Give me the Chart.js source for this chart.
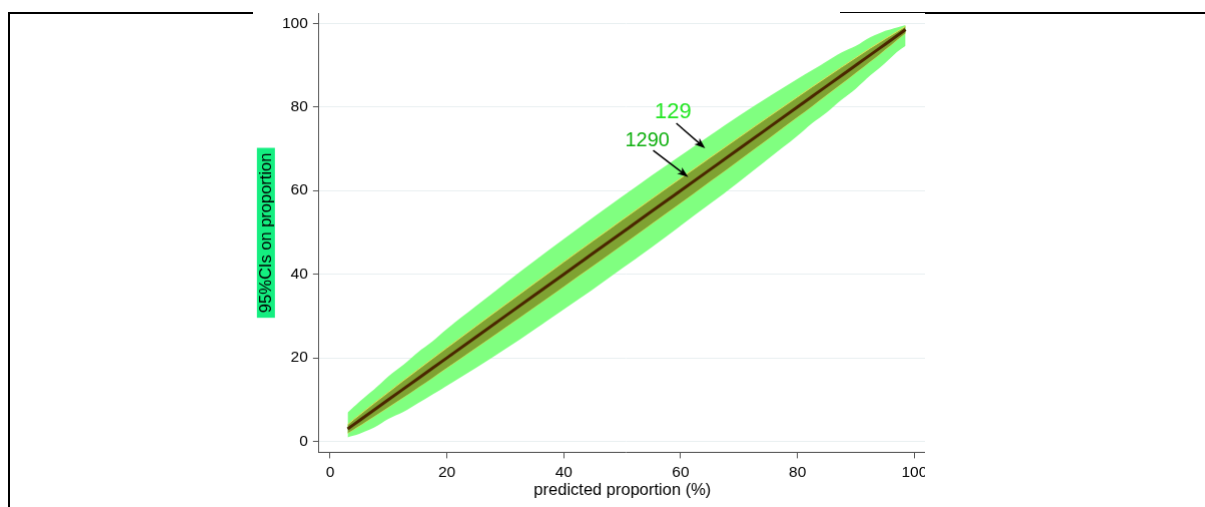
<!DOCTYPE html>
<html><head><meta charset="utf-8">
<script src="https://cdn.jsdelivr.net/npm/chart.js@4/dist/chart.umd.min.js"></script>
<style>
html,body{margin:0;padding:0;background:#fff;width:1205px;height:507px;overflow:hidden;position:relative;font-family:"Liberation Sans",Arial,sans-serif}
.ln{position:absolute;background:#000}
#clip{position:absolute;left:253px;top:13px;width:672px;height:494px;overflow:hidden;background:#fff}
#wrap{position:absolute;left:0;top:0}
</style></head><body>
<div class="ln" style="left:8px;top:12px;width:245px;height:2px"></div>
<div class="ln" style="left:8px;top:12px;width:2px;height:495px"></div>
<div class="ln" style="left:925px;top:12px;width:280px;height:2px"></div>
<div class="ln" style="left:840px;top:12px;width:85px;height:1px"></div>
<div id="clip"><div id="wrap"><canvas id="c" width="720" height="540"></canvas></div></div>
<script>
// ---- data ----
const xPred   = [3, 4, 5, 6, 7.5, 10, 12.5, 15, 17.5, 20, 25, 30, 35, 40, 45, 50, 55, 60, 65, 70, 75, 80, 82.5, 85, 87.5, 90, 92.5, 94, 95, 96, 97, 98.5];
const obsLine = [3, 4, 5, 6, 7.5, 10, 12.5, 15, 17.5, 20, 25, 30, 35, 40, 45, 50, 55, 60, 65, 70, 75, 80, 82.5, 85, 87.5, 90, 92.5, 94, 95, 96, 97, 98.5];
const lo129   = [1.0, 1.4, 1.8, 2.4, 3.3, 5.4, 7.0, 9.1, 11.2, 13.3, 17.6, 22.1, 26.8, 31.6, 36.4, 41.4, 46.4, 51.6, 56.8, 62.1, 67.6, 73.1, 76.1, 78.7, 81.7, 84.4, 87.6, 89.3, 90.5, 91.8, 93.1, 94.6];
const hi129   = [6.9, 8.2, 9.5, 10.7, 12.4, 15.6, 18.3, 21.3, 23.9, 26.9, 32.4, 37.9, 43.2, 48.4, 53.6, 58.6, 63.6, 68.4, 73.2, 77.9, 82.4, 86.7, 88.8, 90.9, 93.0, 94.6, 96.7, 97.6, 98.2, 98.6, 99.0, 99.6];
const lo1290  = [2.0, 2.85, 3.7, 4.6, 5.95, 8.2, 10.5, 12.85, 15.2, 17.6, 22.4, 27.25, 32.15, 37.05, 42.0, 47.0, 52.0, 57.05, 62.15, 67.25, 72.4, 77.6, 80.2, 82.85, 85.5, 88.2, 90.9, 92.55, 93.7, 94.8, 96.0, 97.7];
const hi1290  = [4.0, 5.2, 6.3, 7.45, 9.1, 11.8, 14.5, 17.15, 19.8, 22.4, 27.6, 32.75, 37.85, 42.95, 48.0, 53.0, 58.0, 62.95, 67.85, 72.75, 77.6, 82.4, 84.8, 87.15, 89.5, 91.8, 94.1, 95.4, 96.3, 97.15, 98.0, 99.3];
const xTicks  = [0, 20, 40, 60, 80, 100];
const yTicks  = [0, 20, 40, 60, 80, 100];
const xTitle  = 'predicted proportion (%)';
const yTitle  = '95%CIs on proportion';
// annotations (data coordinates)
const annLabels = ['129', '1290'];
const annTextX  = [58.7, 54.3];
const annTextY  = [78.7, 72.0];
const annFromX  = [59.25, 55.3];
const annFromY  = [76.1, 69.6];
const annToX    = [64.2, 61.3];
const annToY    = [70.1, 63.2];
const annColors = ['#22e622', '#10b010'];
const annSizes  = [22, 20];

const pts = (ys) => xPred.map((x, i) => ({x: x, y: ys[i]}));
const FONT = '"Liberation Sans", Arial, sans-serif';

const extras = {
  id: 'extras',
  beforeDraw(chart) {
    const a = chart.chartArea, ctx = chart.ctx;
    ctx.save();
    ctx.font = '16.5px ' + FONT;
    const w = ctx.measureText(yTitle).width;
    const cx = a.left - 53, cy = (a.top + a.bottom) / 2;
    ctx.translate(cx, cy);
    ctx.rotate(-Math.PI / 2);
    ctx.fillStyle = '#14ee80';
    ctx.fillRect(-w / 2 - 5, -9, w + 10, 18);
    ctx.fillStyle = '#000';
    ctx.textAlign = 'center';
    ctx.textBaseline = 'middle';
    ctx.fillText(yTitle, 0, 1);
    ctx.restore();
    ctx.save();
    ctx.font = '16.5px ' + FONT;
    ctx.fillStyle = '#000';
    ctx.textAlign = 'center';
    ctx.textBaseline = 'middle';
    ctx.fillText(xTitle, a.left + 303, a.bottom + 38);
    ctx.restore();
  },
  afterDatasetsDraw(chart) {
    const ctx = chart.ctx, xs = chart.scales.x, ys = chart.scales.y;
    ctx.save();
    for (let i = 0; i < annLabels.length; i++) {
      const x1 = xs.getPixelForValue(annFromX[i]), y1 = ys.getPixelForValue(annFromY[i]);
      const x2 = xs.getPixelForValue(annToX[i]), y2 = ys.getPixelForValue(annToY[i]);
      const ang = Math.atan2(y2 - y1, x2 - x1);
      ctx.strokeStyle = '#000'; ctx.fillStyle = '#000'; ctx.lineWidth = 1.5;
      ctx.beginPath(); ctx.moveTo(x1, y1);
      ctx.lineTo(x2 - 6 * Math.cos(ang), y2 - 6 * Math.sin(ang)); ctx.stroke();
      ctx.beginPath();
      ctx.moveTo(x2, y2);
      ctx.lineTo(x2 - 11 * Math.cos(ang) + 4 * Math.sin(ang), y2 - 11 * Math.sin(ang) - 4 * Math.cos(ang));
      ctx.lineTo(x2 - 8 * Math.cos(ang), y2 - 8 * Math.sin(ang));
      ctx.lineTo(x2 - 11 * Math.cos(ang) - 4 * Math.sin(ang), y2 - 11 * Math.sin(ang) + 4 * Math.cos(ang));
      ctx.closePath(); ctx.fill();
      ctx.font = annSizes[i] + 'px ' + FONT;
      ctx.fillStyle = annColors[i];
      ctx.textAlign = 'center'; ctx.textBaseline = 'middle';
      ctx.fillText(annLabels[i], xs.getPixelForValue(annTextX[i]), ys.getPixelForValue(annTextY[i]));
    }
    ctx.restore();
  }
};

function config() {
  return {
    type: 'line',
    data: {
      datasets: [
        {data: pts(hi129), fill: '+1', backgroundColor: '#80ff80', borderWidth: 0, pointRadius: 0, order: 3, cubicInterpolationMode: 'monotone'},
        {data: pts(lo129), fill: false, borderWidth: 0, pointRadius: 0, order: 3, cubicInterpolationMode: 'monotone'},
        {data: pts(hi1290), fill: '+1', backgroundColor: '#7fa232', borderColor: '#e2e45a', borderWidth: 1, pointRadius: 0, order: 2, cubicInterpolationMode: 'monotone'},
        {data: pts(lo1290), fill: false, borderColor: '#e2e45a', borderWidth: 1, pointRadius: 0, order: 2, cubicInterpolationMode: 'monotone'},
        {data: pts(obsLine), fill: false, borderColor: '#4a2600', borderWidth: 3, pointRadius: 0, order: 1}
      ]
    },
    options: {
      responsive: false,
      animation: false,
      layout: {padding: {left: 45, right: 0, top: 0, bottom: 30}},
      plugins: {legend: {display: false}, tooltip: {enabled: false}},
      scales: {
        x: {
          type: 'linear', min: -1.9, max: 103.2,
          afterBuildTicks: (s) => { s.ticks = xTicks.map(v => ({value: v})); },
          ticks: {color: '#000', font: {family: FONT, size: 15.5}, padding: 5, maxRotation: 0},
          grid: {drawOnChartArea: false, tickColor: '#555', tickLength: 6, tickWidth: 1},
          border: {color: '#555', width: 1}
        },
        y: {
          type: 'linear', min: -2.6, max: 102.4,
          afterBuildTicks: (s) => { s.ticks = yTicks.map(v => ({value: v})); },
          ticks: {color: '#000', font: {family: FONT, size: 15.5}, padding: 5},
          grid: {color: '#e8eff1', lineWidth: 1, tickColor: '#555', tickLength: 6},
          border: {color: '#555', width: 1}
        }
      }
    },
    plugins: [extras]
  };
}

const canvas = document.getElementById('c');
let chart = new Chart(canvas, config());
let a = chart.chartArea;
const W = 720 + (614 - (a.right - a.left));
const H = 540 + (439 - (a.bottom - a.top));
chart.destroy();
canvas.width = W; canvas.height = H;
canvas.style.width = W + 'px'; canvas.style.height = H + 'px';
chart = new Chart(canvas, config());
a = chart.chartArea;
const wrap = document.getElementById('wrap');
wrap.style.left = (66 - a.left) + 'px';
wrap.style.top = (0 - a.top) + 'px';
</script>
</body></html>
